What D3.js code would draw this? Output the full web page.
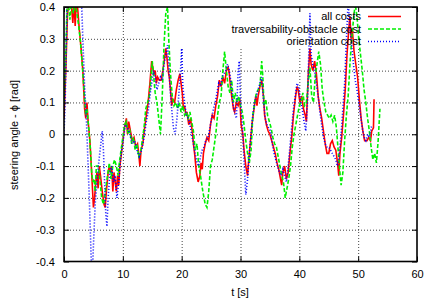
<!DOCTYPE html>
<html>
<head>
<meta charset="utf-8">
<script src="https://cdnjs.cloudflare.com/ajax/libs/d3/7.8.5/d3.min.js"></script>
<style>
  body { margin: 0; background: #fff; }
  svg text { font-family: "Liberation Sans", Arial, sans-serif; }
</style>
</head>
<body>
<svg id="view" width="426" height="305"></svg>
<script>
// tick values
var tTicks = [0, 10, 20, 30, 40, 50, 60];
var phiTicks = [-0.4, -0.3, -0.2, -0.1, 0, 0.1, 0.2, 0.3, 0.4];

var seriesNames = ['all costs', 'traversability-obstacle cost', 'orientation cost'];

// [t, phi]
var allCosts = [
	[0,0.05],[0.3,0.2],[0.6,0.38],[0.9,0.42],[1.2,0.42],[1.5,0.35],[1.7,0.42],[1.9,0.34],[2.1,0.42],[2.3,0.4],
	[2.6,0.33],[2.9,0.27],[3.2,0.2],[3.4,0.12],[3.5,0.08],[3.7,0.05],[3.9,0.1],[4.1,0.04],[4.4,-0.02],[4.7,-0.12],
	[5.0,-0.23],[5.2,-0.2],[5.4,-0.15],[5.6,-0.12],[5.8,-0.17],[6.0,-0.1],[6.2,-0.13],[6.5,-0.18],[6.8,-0.22],[7.0,-0.23],
	[7.2,-0.18],[7.5,-0.12],[7.7,-0.1],[7.9,-0.12],[8.1,-0.1],[8.3,-0.18],[8.5,-0.12],[8.7,-0.15],[8.9,-0.18],[9.1,-0.13],
	[9.3,-0.16],[9.5,-0.1],[9.7,-0.07],[10.0,-0.02],[10.3,0.02],[10.6,0.05],[10.8,0.0],[11.0,0.04],[11.3,0.01],[11.6,-0.02],
	[11.9,-0.01],[12.2,-0.04],[12.5,-0.03],[12.7,-0.06],[12.9,-0.1],[13.1,-0.05],[13.4,-0.03],[13.7,0.02],[14.0,0.06],[14.3,0.1],
	[14.6,0.16],[14.9,0.23],[15.1,0.21],[15.3,0.19],[15.5,0.2],[15.7,0.16],[15.9,0.18],[16.2,0.17],[16.5,0.17],[16.8,0.2],
	[17.1,0.24],[17.3,0.27],[17.5,0.24],[17.7,0.2],[17.9,0.18],[18.1,0.14],[18.3,0.09],[18.5,0.11],[18.8,0.1],[19.1,0.14],
	[19.4,0.17],[19.7,0.19],[19.9,0.16],[20.1,0.13],[20.3,0.08],[20.5,0.09],[20.7,0.06],[20.9,0.07],[21.2,0.03],[21.5,0.05],
	[21.8,0.01],[22.0,-0.03],[22.2,-0.06],[22.5,-0.12],[22.8,-0.15],[23.1,-0.13],[23.3,-0.09],[23.5,-0.11],[23.7,-0.06],[24.0,-0.03],
	[24.3,-0.01],[24.6,-0.02],[24.9,0.03],[25.2,0.06],[25.5,0.05],[25.8,0.09],[26.1,0.12],[26.4,0.17],[26.7,0.15],[27.0,0.18],
	[27.3,0.16],[27.6,0.2],[27.9,0.21],[28.1,0.19],[28.3,0.15],[28.5,0.12],[28.8,0.08],[29.0,0.07],[29.3,0.1],[29.6,0.09],
	[29.9,0.11],[30.1,0.03],[30.4,0.0],[30.6,-0.05],[30.9,-0.1],[31.2,-0.13],[31.4,-0.08],[31.7,-0.02],[32.0,0.04],[32.3,0.08],
	[32.6,0.12],[32.8,0.09],[33.0,0.12],[33.3,0.15],[33.6,0.17],[33.9,0.12],[34.1,0.06],[34.4,0.03],[34.7,0.01],[35.0,0.0],
	[35.3,-0.02],[35.6,-0.04],[35.9,-0.06],[36.2,-0.09],[36.5,-0.11],[36.8,-0.14],[37.0,-0.16],[37.2,-0.12],[37.5,-0.1],[37.8,-0.14],
	[38.1,-0.12],[38.4,-0.06],[38.7,-0.01],[39.0,0.06],[39.3,0.11],[39.6,0.15],[39.8,0.14],[40.1,0.1],[40.4,0.12],[40.7,0.08],
	[41.0,0.06],[41.2,0.04],[41.5,0.18],[41.8,0.27],[42.0,0.22],[42.3,0.2],[42.6,0.23],[42.9,0.19],[43.2,0.12],[43.5,0.08],
	[43.8,0.05],[44.1,0.01],[44.4,-0.03],[44.7,-0.06],[45.0,-0.06],[45.3,-0.03],[45.6,-0.02],[45.9,-0.04],[46.2,-0.05],[46.5,-0.09],
	[46.7,-0.13],[46.9,-0.06],[47.2,-0.01],[47.5,0.06],[47.8,0.14],[48.1,0.25],[48.4,0.33],[48.6,0.37],[48.8,0.3],[49.0,0.33],
	[49.3,0.26],[49.6,0.22],[49.9,0.18],[50.2,0.11],[50.5,0.05],[50.8,0.01],[51.1,-0.02],[51.5,-0.02],[51.8,-0.01],[52.1,-0.02],
	[52.3,0.01],[52.6,0.02],[52.7,0.11]
];

var travCost = [
	[0,0.1],[0.3,0.25],[0.5,0.4],[0.7,0.43],[1.0,0.36],[1.3,0.42],[1.6,0.38],[1.9,0.42],[2.2,0.38],[2.5,0.34],
	[2.8,0.29],[3.1,0.22],[3.4,0.14],[3.7,0.06],[3.9,0.08],[4.1,0.04],[4.3,0.0],[4.5,-0.05],[4.7,-0.12],[4.9,-0.15],
	[5.1,-0.14],[5.3,-0.18],[5.5,-0.1],[5.8,-0.1],[6.1,-0.14],[6.4,-0.2],[6.7,-0.22],[6.9,-0.2],[7.1,-0.17],[7.4,-0.13],
	[7.7,-0.09],[8.0,-0.14],[8.3,-0.1],[8.6,-0.08],[8.9,-0.1],[9.2,-0.13],[9.4,-0.09],[9.7,-0.05],[10.0,-0.01],[10.3,0.03],
	[10.6,0.04],[10.9,0.0],[11.2,0.01],[11.5,-0.03],[11.8,-0.01],[12.1,-0.05],[12.4,-0.03],[12.7,-0.07],[13.0,-0.06],[13.3,-0.02],
	[13.6,0.02],[13.9,0.08],[14.2,0.1],[14.5,0.12],[14.8,0.18],[15.0,0.23],[15.2,0.19],[15.5,0.13],[15.8,0.1],[16.1,0.05],
	[16.4,0.0],[16.7,0.12],[17.0,0.28],[17.3,0.38],[17.6,0.4],[17.8,0.3],[18.1,0.19],[18.4,0.12],[18.7,0.09],[19.0,0.1],
	[19.3,0.08],[19.6,0.1],[19.9,0.07],[20.2,0.09],[20.5,0.06],[20.8,0.07],[21.1,0.05],[21.4,0.07],[21.7,0.04],[22.0,0.01],
	[22.3,-0.05],[22.6,-0.03],[22.9,-0.1],[23.2,-0.13],[23.6,-0.18],[24.0,-0.22],[24.3,-0.23],[24.6,-0.18],[24.9,-0.1],[25.2,-0.08],
	[25.5,-0.04],[25.8,0.0],[26.1,0.06],[26.4,0.1],[26.7,0.12],[27.0,0.2],[27.3,0.26],[27.6,0.2],[27.9,0.15],[28.2,0.13],
	[28.5,0.17],[28.8,0.1],[29.1,0.13],[29.4,0.1],[29.7,0.12],[30.0,0.09],[30.3,0.07],[30.6,0.03],[30.9,-0.02],[31.2,-0.06],
	[31.5,-0.09],[31.8,-0.05],[32.1,0.06],[32.4,0.1],[32.7,0.13],[33.0,0.14],[33.3,0.15],[33.6,0.23],[33.8,0.18],[34.0,0.09],
	[34.3,0.11],[34.6,0.06],[34.9,0.04],[35.2,0.02],[35.5,-0.01],[35.8,-0.03],[36.1,-0.04],[36.4,-0.07],[36.7,-0.1],[37.0,-0.13],
	[37.3,-0.15],[37.6,-0.2],[37.9,-0.17],[38.2,-0.14],[38.5,-0.1],[38.8,-0.04],[39.1,0.0],[39.4,0.03],[39.7,0.06],[40.0,0.09],
	[40.3,0.1],[40.6,0.13],[40.9,0.09],[41.2,0.1],[41.5,0.16],[41.8,0.21],[42.1,0.12],[42.4,0.1],[42.7,0.18],[43.0,0.22],
	[43.3,0.26],[43.6,0.22],[43.9,0.14],[44.2,0.1],[44.5,0.07],[44.8,0.06],[45.1,0.05],[45.4,0.06],[45.7,0.04],[46.0,0.06],
	[46.3,0.02],[46.6,-0.05],[46.9,-0.12],[47.1,-0.16],[47.4,-0.12],[47.7,-0.02],[48.0,0.06],[48.3,0.12],[48.6,0.22],[48.9,0.3],
	[49.2,0.36],[49.5,0.41],[49.8,0.37],[50.1,0.3],[50.4,0.25],[50.7,0.2],[51.0,0.14],[51.3,0.1],[51.6,0.05],[51.9,0.01],
	[52.2,-0.04],[52.5,-0.08],[52.8,-0.06],[53.1,-0.09],[53.4,-0.02],[53.7,0.08]
];

var orientCost = [
	[0,0.0],[0.2,0.1],[0.4,0.3],[0.6,0.45],[1.5,0.55],[2.5,0.5],[3.0,0.41],[3.2,0.3],[3.5,0.15],[3.8,0.05],
	[4.0,-0.05],[4.3,-0.2],[4.6,-0.38],[4.8,-0.45],[5.0,-0.35],[5.3,-0.22],[5.6,-0.15],[5.9,-0.09],[6.2,-0.04],[6.5,0.01],
	[6.7,-0.05],[6.9,-0.15],[7.1,-0.25],[7.3,-0.29],[7.5,-0.2],[7.8,-0.12],[8.1,-0.1],[8.4,-0.15],[8.7,-0.13],[9.0,-0.2],
	[9.3,-0.15],[9.6,-0.08],[10.0,-0.03],[10.4,0.03],[10.8,0.02],[11.2,0.0],[11.6,-0.03],[12.0,-0.02],[12.4,-0.05],[12.8,-0.07],
	[13.2,-0.05],[13.6,-0.01],[14.0,0.04],[14.3,0.07],[14.6,0.12],[14.9,0.16],[15.2,0.2],[15.5,0.18],[15.8,0.14],[16.1,0.16],
	[16.4,0.18],[16.7,0.17],[17.0,0.22],[17.3,0.25],[17.6,0.28],[17.8,0.22],[18.0,0.15],[18.3,0.08],[18.6,0.02],[18.9,0.0],
	[19.2,0.05],[19.5,0.12],[19.8,0.2],[20.0,0.27],[20.2,0.15],[20.5,0.1],[20.8,0.06],[21.1,0.05],[21.4,0.03],[21.7,0.0],
	[22.0,-0.03],[22.3,-0.06],[22.6,-0.09],[22.9,-0.1],[23.2,-0.07],[23.5,-0.05],[23.8,-0.04],[24.1,-0.02],[24.5,-0.01],[24.8,0.02],
	[25.1,0.05],[25.4,0.08],[25.7,0.1],[26.0,0.13],[26.3,0.16],[26.6,0.15],[26.9,0.18],[27.2,0.19],[27.5,0.2],[27.8,0.22],
	[28.1,0.2],[28.4,0.16],[28.7,0.1],[29.0,0.07],[29.3,0.05],[29.6,0.2],[29.8,0.23],[30.0,0.1],[30.3,0.03],[30.6,-0.08],
	[30.9,-0.19],[31.2,-0.14],[31.5,-0.06],[31.8,0.0],[32.1,0.06],[32.4,0.1],[32.7,0.12],[33.0,0.14],[33.3,0.16],[33.6,0.18],
	[33.9,0.11],[34.2,0.05],[34.5,0.03],[34.8,0.02],[35.1,0.01],[35.4,-0.03],[35.7,-0.06],[36.0,-0.08],[36.3,-0.1],[36.6,-0.12],
	[36.9,-0.13],[37.2,-0.11],[37.5,-0.13],[37.8,-0.15],[38.1,-0.1],[38.4,-0.04],[38.7,0.02],[39.0,0.08],[39.3,0.12],[39.6,0.16],
	[39.9,0.15],[40.2,0.1],[40.5,0.08],[40.8,0.04],[41.1,0.01],[41.4,0.1],[41.6,0.25],[41.8,0.38],[42.0,0.25],[42.3,0.22],
	[42.6,0.2],[42.9,0.16],[43.2,0.12],[43.5,0.07],[43.8,0.03],[44.1,-0.01],[44.4,-0.03],[44.7,-0.04],[45.0,-0.04],[45.3,-0.05],
	[45.6,-0.06],[45.9,-0.07],[46.2,-0.08],[46.5,-0.1],[46.8,-0.06],[47.1,0.0],[47.4,0.08],[47.7,0.16],[48.0,0.3],[48.3,0.42],
	[48.6,0.33],[48.9,0.28],[49.2,0.22],[49.5,0.17],[49.8,0.14],[50.1,0.1],[50.4,0.06],[50.7,0.02],[51.0,-0.01],[51.3,-0.02],
	[51.6,0.0],[51.9,-0.01],[52.2,0.02],[52.4,0.03]
];

var W = 426, H = 305;
var margin = {left: 64, top: 7, right: 9, bottom: 43.5};
var plotW = W - margin.left - margin.right;
var plotH = H - margin.top - margin.bottom;

var svg = d3.select('svg#view');

var x = d3.scaleLinear().domain([0, 60]).range([0, plotW]);
var y = d3.scaleLinear().domain([-0.4, 0.4]).range([plotH, 0]);

var g = svg.append('g').attr('transform', 'translate(' + margin.left + ',' + margin.top + ')');

var fmt = function(v) { return v === 0 ? '0' : d3.format('.1f')(v).replace('\u2212', '-'); };

// grid (dotted), key area gets blanked afterwards
g.append('g').attr('class', 'grid')
	.call(d3.axisBottom(x).tickValues(tTicks.slice(1, -1)).tickSize(plotH).tickFormat(''));
g.append('g').attr('class', 'grid')
	.call(d3.axisLeft(y).tickValues(phiTicks.slice(1, -1)).tickSize(-plotW).tickFormat(''));
g.selectAll('.grid .domain').remove();
g.selectAll('.grid line')
	.attr('stroke', '#444').attr('stroke-width', 1).attr('stroke-dasharray', '1,2');

// key box hides the grid behind it
var keyRight = 361;
g.append('rect')
	.attr('x', 159 - margin.left).attr('y', 0)
	.attr('width', plotW - (159 - margin.left)).attr('height', 48 - margin.top)
	.attr('fill', '#fff');

// data
g.append('clipPath').attr('id', 'plotClip')
	.append('rect').attr('width', plotW).attr('height', plotH);

var line = d3.line().x(function(d) { return x(d[0]); }).y(function(d) { return y(d[1]); });

var series = [
	{data: allCosts, color: '#ff0000', dash: null, width: 1.6},
	{data: travCost, color: '#00f000', dash: '4,2', width: 1.6},
	{data: orientCost, color: '#0000ff', dash: '1,2', width: 1.6}
];

var dataG = g.append('g').attr('clip-path', 'url(#plotClip)');
series.forEach(function(s) {
	dataG.append('path')
		.datum(s.data)
		.attr('d', line)
		.attr('fill', 'none')
		.attr('stroke', s.color)
		.attr('stroke-width', s.width)
		.attr('stroke-dasharray', s.dash);
});

// axes with inward ticks, mirrored on top/right
var axB = g.append('g').attr('transform', 'translate(0,' + plotH + ')')
	.call(d3.axisBottom(x).tickValues(tTicks).tickSizeInner(-5).tickSizeOuter(0).tickPadding(9).tickFormat(d3.format('d')));
var axL = g.append('g')
	.call(d3.axisLeft(y).tickValues(phiTicks).tickSizeInner(-5).tickSizeOuter(0).tickPadding(9).tickFormat(fmt));
var axT = g.append('g')
	.call(d3.axisTop(x).tickValues(tTicks).tickSizeInner(-5).tickSizeOuter(0).tickFormat(''));
var axR = g.append('g').attr('transform', 'translate(' + plotW + ',0)')
	.call(d3.axisRight(y).tickValues(phiTicks).tickSizeInner(-5).tickSizeOuter(0).tickFormat(''));

[axB, axL, axT, axR].forEach(function(a) {
	a.select('.domain').remove();
	a.selectAll('line').attr('stroke', '#000').attr('stroke-width', 1);
	a.selectAll('text').attr('font-size', 11).attr('fill', '#000')
		.attr('font-family', '"Liberation Sans", Arial, sans-serif');
});

// border
g.append('rect')
	.attr('width', plotW).attr('height', plotH)
	.attr('fill', 'none').attr('stroke', '#000').attr('stroke-width', 1.6);

// axis titles
svg.append('text')
	.attr('x', 240).attr('y', 296)
	.attr('text-anchor', 'middle').attr('font-size', 11)
	.text('t [s]');
svg.append('text')
	.attr('transform', 'translate(18,135) rotate(-90)')
	.attr('text-anchor', 'middle').attr('font-size', 11)
	.text('steering angle - \u03d5 [rad]');

// legend
var keyRows = [16.5, 29, 41.5];
series.forEach(function(s, i) {
	svg.append('text')
		.attr('x', keyRight).attr('y', keyRows[i]).attr('dy', '0.35em')
		.attr('text-anchor', 'end').attr('font-size', 11)
		.text(seriesNames[i]);
	svg.append('line')
		.attr('x1', 368).attr('x2', 401)
		.attr('y1', keyRows[i]).attr('y2', keyRows[i])
		.attr('stroke', s.color).attr('stroke-width', s.width)
		.attr('stroke-dasharray', s.dash);
});
</script>
</body>
</html>
